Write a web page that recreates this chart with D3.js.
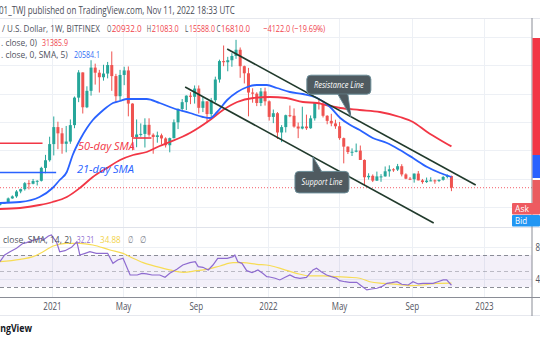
<!DOCTYPE html>
<html><head><meta charset="utf-8">
<script src="https://cdn.jsdelivr.net/npm/d3@7"></script>
<style>
html,body{margin:0;padding:0;background:#fff;overflow:hidden}
svg{display:block}
text{font-family:"Open Sans","Noto Sans",sans-serif}
</style></head><body>
<svg id="c" width="540" height="340"></svg>
<script>
// ---------------- DATA ----------------
const firstWeek = "2020-09-28"; // weekly candles, one per Monday
const opens  = [10780,10670,11380,11500,13030,13750,15480,16300,18400,18200,19150,19250,23800,26500,
  32200,38200,36000,32300,33100,38900,48600,57500,45200,51000,59200,57400,55800,57100,60100,56200,49100,56600,58200,46500,34700,35600,35800,39000,35500,34700,35300,34200,31800,34300,39900,44600,47000,49300,48900,51800,45000,47300,42800,47700,55000,61500,61100,61800,63300,65500,59700,57200,50400,50000,46700,50800,
  47300,41800,43100,36300,38200,42400,42200,38400,37700,38400,37800,41300,46800,46400,42200,40400,39500,38500,34300,31300,29400,29500,29900,26600,20500,21000,19300,20800,20800,22600,23300,23200,24400,21500,20000,19800,21800,19400,18800,19300,19400,19200,19600,20600,20932];
const highs  = [10950,11500,11730,13350,14100,15970,16480,18800,19480,19900,19450,24200,28400,34800,
  41950,40100,37900,38600,40900,49000,58300,57500,52600,61800,60600,58400,60200,61200,64900,57000,58400,59500,59600,46600,40900,39500,41300,41300,36000,36600,35900,34600,34500,40900,44800,48100,49400,50500,52900,52900,48900,47300,48500,56000,62000,67000,63000,64300,69000,66300,59900,59100,51900,50500,52000,52100,
  47600,44400,43500,38900,42600,45800,44800,39800,45400,42600,42300,46800,48200,47200,42400,42900,40800,40000,34500,31400,30700,32400,31700,26800,21900,21500,22500,21600,24300,24700,23700,25200,25100,21900,20600,21800,22700,19900,20400,20500,19700,19700,21000,21500,21083];
const lows   = [10400,10530,11200,11400,12900,13250,14850,15800,16200,18000,17600,19000,21900,26000,
  28200,30400,28800,29300,32300,37800,47000,43000,44900,49300,53200,50400,54600,55400,51000,47000,47500,53000,42000,30000,31100,34800,31000,34800,28800,32700,32100,31000,29300,34200,37500,43700,44200,46300,46500,43000,43500,39600,40800,46900,53900,59700,57900,59500,62300,55600,53600,42000,46800,45600,45600,45800,
  40500,39600,34000,32900,36300,41700,38000,34300,37400,37200,37600,40500,44400,41600,39200,38500,37600,33700,25400,28700,28000,29300,26600,17600,19700,18800,19200,18900,20700,20700,22400,22700,20800,19800,19500,18600,19400,18200,18500,19100,18200,18800,19300,20100,15588];
const closes = [10670,11380,11500,13030,13750,15480,16300,18400,18200,19150,19250,23800,26500,32200,
  38200,36000,32300,33100,38900,48600,57500,45200,51000,59200,57400,55800,57100,60100,56200,49100,56600,58200,46500,34700,35600,35800,39000,35500,34700,35300,34200,31800,34300,39900,44600,47000,49300,48900,51800,45000,47300,42800,47700,55000,61500,61100,61800,63300,65500,59700,57200,50400,50000,46700,50800,47300,
  41800,43100,36300,38200,42400,42200,38400,37700,38400,37800,41300,46800,46400,42200,40400,39500,38500,34300,31300,29400,29500,29900,26600,20500,21000,19300,20800,20800,22600,23300,23200,24400,21500,20000,19800,21800,19400,18800,19300,19400,19200,19600,20600,20932,16810];

// 21-period SMA (blue)
const sma21Dates = ["2020-10-05","2020-11-08","2020-12-11","2021-01-02","2021-01-14","2021-01-26","2021-02-05","2021-02-17","2021-03-01","2021-03-11","2021-03-23","2021-04-04","2021-04-14","2021-04-26","2021-05-08","2021-05-18","2021-06-10","2021-07-02","2021-07-24","2021-08-22","2021-09-13","2021-09-25","2021-10-07","2021-10-24","2021-11-10","2021-11-27","2021-12-13","2021-12-30","2022-01-16","2022-02-07","2022-03-01","2022-03-25","2022-04-16","2022-05-03","2022-05-20","2022-06-05","2022-06-27","2022-07-21","2022-08-12","2022-09-03","2022-09-27","2022-10-19","2022-11-07"];
const sma21Values = [11412,11765,13529,16706,19529,22353,28353,33647,37882,40706,43176,45294,46706,47412,48118,48118,48118,46706,44941,43176,41765,41412,43529,47765,50588,52353,53059,53059,52000,50588,49882,48471,45294,41412,38941,37176,34353,32588,30118,27294,24118,22000,20584];
// 50-period SMA (red)
const sma50Dates = ["2020-10-05","2020-11-08","2020-12-11","2021-01-02","2021-01-26","2021-02-17","2021-03-11","2021-04-04","2021-04-26","2021-05-18","2021-06-10","2021-07-02","2021-07-19","2021-08-22","2021-09-25","2021-10-17","2021-11-10","2021-12-07","2022-01-04","2022-02-01","2022-03-01","2022-03-25","2022-04-16","2022-05-03","2022-06-05","2022-07-09","2022-08-12","2022-09-03","2022-09-27","2022-10-19","2022-11-07"];
const sma50Values = [9294,9647,10706,11765,13529,16706,20588,23765,26588,28353,29412,31529,32941,36118,40706,44235,47059,48471,48824,48471,47059,46706,45647,44941,44235,43529,41765,40000,36471,33647,31386];

// RSI (purple)
const rsiDates = ["2020-10-05","2020-10-13","2020-10-22","2020-11-02","2020-11-13","2020-11-19","2020-11-28","2020-12-06","2020-12-14","2020-12-17","2020-12-26","2020-12-31","2021-01-09","2021-01-14","2021-01-23","2021-02-03","2021-02-12","2021-02-17","2021-02-26","2021-03-06","2021-03-17","2021-03-28","2021-04-05","2021-04-14","2021-04-22","2021-05-01","2021-05-13","2021-05-25","2021-06-02","2021-06-10","2021-06-19","2021-07-02","2021-07-11","2021-07-19","2021-07-31","2021-08-10","2021-08-22","2021-08-31","2021-09-05","2021-09-13","2021-09-22","2021-09-30","2021-10-08","2021-10-24","2021-11-03","2021-11-06","2021-11-11","2021-11-18","2021-11-26","2021-12-05","2021-12-15","2021-12-23","2021-12-30","2022-01-04","2022-01-13","2022-01-21","2022-01-30","2022-02-07","2022-02-15","2022-02-24","2022-03-07","2022-03-18","2022-03-24","2022-04-01","2022-04-10","2022-04-18","2022-04-27","2022-05-02","2022-05-11","2022-05-19","2022-05-31","2022-06-08","2022-06-17","2022-06-25","2022-07-04","2022-07-12","2022-07-21","2022-07-29","2022-08-07","2022-08-15","2022-08-26","2022-09-03","2022-09-12","2022-09-20","2022-09-29","2022-10-07","2022-10-15","2022-10-24","2022-10-30","2022-11-07"];
const rsiValues = [61.6,70,74.1,78.4,84.6,85.4,87.9,89.6,90.9,88.8,93.8,95,85.4,74.1,75.4,79.6,86.6,70,72.1,74.1,72.1,72.1,72.1,59.6,63.8,65.9,45,45,47.1,46.3,45,45,42.1,47.1,52.1,57.5,60.4,61.6,55.4,54.6,51.3,57.5,65.9,65.9,67.9,70,61.6,59.6,50.4,47.9,51.3,47.1,42.9,42.5,40.9,38.8,42.1,45,42.1,40.9,42.1,51.3,53.4,49.1,45,42.9,40.9,37.9,36.6,35.9,35.9,31.3,26.3,27.5,28.4,30.4,34.6,35.4,36.6,33.4,32.5,36.6,33.8,34.6,34.6,34.6,36.6,38.8,38.8,32.21];
// RSI moving average (yellow)
const rsiMaDates = ["2020-10-05","2020-11-08","2020-11-30","2020-12-17","2021-01-03","2021-01-25","2021-02-17","2021-03-11","2021-04-09","2021-05-01","2021-05-18","2021-06-04","2021-06-27","2021-07-19","2021-08-11","2021-09-02","2021-09-19","2021-10-12","2021-11-03","2021-11-20","2021-12-13","2022-01-04","2022-01-27","2022-02-18","2022-03-13","2022-04-04","2022-04-27","2022-05-19","2022-06-05","2022-06-22","2022-07-15","2022-08-07","2022-08-29","2022-09-20","2022-10-13","2022-11-07"];
const rsiMaValues = [61.6,64.6,67.9,74.1,81.3,84.6,84.6,82.5,76.3,72.1,65.9,60.4,55.4,51.3,48.4,50.4,52.1,56.3,60.4,60.4,58.4,56.9,52.1,47.1,43.8,43.8,42.9,42.1,40.9,36.6,34.6,33.4,31.6,32.5,34.6,34.88];

// drawings
const resistanceLine = [["2021-10-24",65765],["2022-12-18",17765]];
const supportLine    = [["2021-08-14",52353],["2022-10-08",4353]];
const redHLine  = {from:"2020-08-01", to:"2020-12-16", price:32480};
const redHLine2 = {from:"2021-05-18", to:"2021-06-18", price:34350};
const blueHLine = {from:"2020-08-01", to:"2021-01-08", price:22176};
const resistanceAnchor = ["2022-05-21", 41870];
const supportAnchor    = ["2022-03-18", 27680];
const lastPrice = 16810;

// legend values
const ohlcLabels = ["O","H","L","C"];
const ohlcValues = ["20932.0","21083.0","15588.0","16810.0"];
const changeText = "\u22124122.0 (\u221219.69%)";
const sma50Last = "31385.9", sma21Last = "20584.1";
const rsiLast = "32.21", rsiMaLast = "34.88";

const priceTicks = [10000,20000,30000,40000,50000,60000,70000];
const timeTickDates  = ["2021-01-01","2021-05-01","2021-09-01","2022-01-01","2022-05-01","2022-09-01","2023-01-01"];
const timeTickLabels = ["2021","May","Sep","2022","May","Sep","2023"];
const rsiBand = [30,70], rsiMid = 50, rsiGridLevels = [80,40];

// ---------------- CHART ----------------
const svg = d3.select("#c");
const parse = d3.utcParse("%Y-%m-%d");
const P = {right:532, top:18, bottom:227, rsiTop:227, rsiBottom:297, axisBottom:316};
const UP="#26a69a", DOWN="#ef5350", RED="#f23645", BLUE="#2962ff", GRID="#edf0f5";
const SQUEEZE = 0.8; // the reference's text is horizontally condensed

const x  = d3.scaleUtc().domain([parse("2021-01-01"), parse("2023-01-01")]).range([52,484]);
const y  = d3.scaleLinear().domain([10000,70000]).range([207,37]);
const yr = d3.scaleLinear().domain([30,70]).range([287,255]);

const t0 = parse(firstWeek);
const candles = closes.map((c,i)=>({d:d3.utcDay.offset(t0,7*i), o:opens[i], h:highs[i], l:lows[i], c}));

// text helper: draws text at natural size, then squeezes it horizontally to a target width
function tx(parent, xp, yp, s, col, width, size, opt={}){
  const e = parent.append("text").attr("x",0).attr("y",0).attr("fill",col).attr("font-size",size)
    .attr("text-anchor",opt.anchor||"start").text(s);
  if(opt.italic) e.attr("font-style","italic");
  if(opt.bold) e.attr("font-weight","bold");
  const w = e.node().getComputedTextLength();
  const sx = width ? width/w : SQUEEZE;
  e.attr("transform",`translate(${xp},${yp}) scale(${sx.toFixed(4)},1)`);
  return e;
}

svg.append("rect").attr("width",540).attr("height",340).attr("fill","#fff");

const defs = svg.append("defs");
defs.append("clipPath").attr("id","cp").append("rect").attr("x",0).attr("y",P.top).attr("width",P.right).attr("height",P.bottom-P.top);
defs.append("clipPath").attr("id","cr").append("rect").attr("x",0).attr("y",P.rsiTop).attr("width",P.right).attr("height",P.rsiBottom-P.rsiTop);

// grid
const grid = svg.append("g");
grid.selectAll(".vg").data(timeTickDates).join("line")
  .attr("x1",d=>Math.round(x(parse(d)))+0.5).attr("x2",d=>Math.round(x(parse(d)))+0.5)
  .attr("y1",P.top).attr("y2",P.rsiBottom).attr("stroke",GRID);
grid.selectAll(".hg").data(priceTicks).join("line")
  .attr("x1",0).attr("x2",P.right).attr("y1",d=>Math.round(y(d))+0.5).attr("y2",d=>Math.round(y(d))+0.5).attr("stroke",GRID);
grid.selectAll(".rg").data(rsiGridLevels).join("line")
  .attr("x1",0).attr("x2",P.right).attr("y1",d=>Math.round(yr(d))+0.5).attr("y2",d=>Math.round(yr(d))+0.5).attr("stroke",GRID);

// ---- price pane ----
const pp = svg.append("g").attr("clip-path","url(#cp)");

pp.append("line").attr("x1",0).attr("x2",P.right).attr("y1",y(lastPrice)).attr("y2",y(lastPrice))
  .attr("stroke",RED).attr("stroke-width",1).attr("stroke-dasharray","1,2").attr("opacity",0.8);

const cg = pp.append("g");
cg.selectAll("line").data(candles).join("line")
  .attr("x1",d=>x(d.d)).attr("x2",d=>x(d.d)).attr("y1",d=>y(d.h)).attr("y2",d=>y(d.l))
  .attr("stroke",d=>d.c>=d.o?UP:DOWN).attr("stroke-width",1);
cg.selectAll("rect").data(candles).join("rect")
  .attr("x",d=>x(d.d)-1.5).attr("width",3)
  .attr("y",d=>y(Math.max(d.o,d.c))).attr("height",d=>Math.max(1,Math.abs(y(d.o)-y(d.c))))
  .attr("fill",d=>d.c>=d.o?UP:DOWN);

const maLine = d3.line().curve(d3.curveMonotoneX);
pp.append("path").attr("d",maLine(sma50Dates.map((d,i)=>[x(parse(d)),y(sma50Values[i])])))
  .attr("fill","none").attr("stroke",RED).attr("stroke-width",1.8);
pp.append("path").attr("d",maLine(sma21Dates.map((d,i)=>[x(parse(d)),y(sma21Values[i])])))
  .attr("fill","none").attr("stroke",BLUE).attr("stroke-width",1.8);

[[redHLine,RED],[redHLine2,RED],[blueHLine,BLUE]].forEach(([h,col])=>{
  pp.append("line").attr("x1",x(parse(h.from))).attr("x2",x(parse(h.to)))
    .attr("y1",y(h.price)).attr("y2",y(h.price)).attr("stroke",col).attr("stroke-width",1.6);
});

[resistanceLine,supportLine].forEach(l=>{
  pp.append("line").attr("x1",x(parse(l[0][0]))).attr("y1",y(l[0][1]))
    .attr("x2",x(parse(l[1][0]))).attr("y2",y(l[1][1]))
    .attr("stroke","#213a2c").attr("stroke-width",1.6);
});

function callout(anchor, box, tail, label, tlen){
  const ax = x(parse(anchor[0])), ay = y(anchor[1]);
  const g = pp.append("g");
  const pts = tail.map(p=>[ax+p[0],ay+p[1]]);
  const fill="#4f5a60", stroke="#6b8d98";
  g.append("polygon").attr("points",[[ax,ay],...pts].join(" ")).attr("fill",fill).attr("stroke",stroke).attr("stroke-width",1);
  g.append("rect").attr("x",ax+box[0]).attr("y",ay+box[1]).attr("width",box[2]).attr("height",box[3])
    .attr("rx",4).attr("fill",fill).attr("stroke",stroke).attr("stroke-width",1);
  g.append("polygon").attr("points",[[ax,ay],...pts].map((p,i)=>i===0?[p[0],p[1]+(tail[0][1]>0?1.5:-1.5)]:[p[0]+(i===1?1:-1),p[1]]).join(" ")).attr("fill",fill);
  tx(g, ax+box[0]+box[2]/2, ay+box[1]+box[3]/2+3, label, "#fff", tlen, 9, {anchor:"middle", italic:true});
}
callout(resistanceAnchor,[-44,-41.5,64,19],[[-13,-22.5],[-3,-22.5]],"Resistance Line",50);
callout(supportAnchor,[-18,14.5,54,21.5],[[0,15],[9,15]],"Support Line",41);

tx(pp, 78, 150, "50-day SMA", RED, 57, 11.5, {italic:true});
tx(pp, 77, 172.5, "21-day SMA", BLUE, 57, 11.5, {italic:true});

// ---- RSI pane ----
const rp = svg.append("g").attr("clip-path","url(#cr)");
rp.append("rect").attr("x",0).attr("width",P.right).attr("y",yr(rsiBand[1])).attr("height",yr(rsiBand[0])-yr(rsiBand[1]))
  .attr("fill","#7e57c2").attr("opacity",0.09);
[rsiBand[1],rsiMid,rsiBand[0]].forEach(v=>{
  rp.append("line").attr("x1",0).attr("x2",P.right).attr("y1",Math.round(yr(v))+0.5).attr("y2",Math.round(yr(v))+0.5)
    .attr("stroke","#787b86").attr("stroke-dasharray","4,3").attr("opacity",v===rsiMid?0.45:0.85);
});
rp.append("path").attr("d",d3.line().curve(d3.curveMonotoneX)(rsiMaDates.map((d,i)=>[x(parse(d)),yr(rsiMaValues[i])])))
  .attr("fill","none").attr("stroke","#f7dc55").attr("stroke-width",1.2);
rp.append("path").attr("d",d3.line()(rsiDates.map((d,i)=>[x(parse(d)),yr(rsiValues[i])])))
  .attr("fill","none").attr("stroke","#8e6bd0").attr("stroke-width",1.2);

// ---- frame lines ----
const fr = svg.append("g");
fr.append("line").attr("x1",0).attr("x2",540).attr("y1",18.5).attr("y2",18.5).attr("stroke","#e6e8ee");
fr.append("line").attr("x1",0).attr("x2",540).attr("y1",227.5).attr("y2",227.5).attr("stroke","#e0e3eb");
fr.append("line").attr("x1",0).attr("x2",540).attr("y1",297.5).attr("y2",297.5).attr("stroke","#8a8d96").attr("stroke-width",1);
fr.append("line").attr("x1",0).attr("x2",540).attr("y1",315.5).attr("y2",315.5).attr("stroke","#e6e8ee");
fr.append("line").attr("x1",532).attr("x2",532).attr("y1",18).attr("y2",316).attr("stroke","#8a8d96");

// ---- right axis labels (cropped by the window edge, as in the reference) ----
const ax = svg.append("g");
ax.append("rect").attr("x",532.5).attr("y",38).attr("width",8).attr("height",117).attr("fill",RED);
ax.append("rect").attr("x",532.5).attr("y",155).attr("width",8).attr("height",23).attr("fill",BLUE);
ax.append("rect").attr("x",532.5).attr("y",180).attr("width",8).attr("height",24).attr("fill","#ea5b5f");
ax.append("rect").attr("x",512).attr("y",203).attr("width",28).attr("height",11.5).attr("fill","#ee5a60").attr("rx",1);
ax.append("rect").attr("x",512).attr("y",215).attr("width",28).attr("height",11.5).attr("fill","#2196f3").attr("rx",1);
tx(ax, 515, 212.3, "Ask", "#fff", 14, 9.5);
tx(ax, 515, 224.3, "Bid", "#fff", 12, 9.5);
rsiGridLevels.forEach(v=>tx(ax, 535.5, yr(v)+3.5, v.toFixed(2), "#50535e", null, 10));

// ---- time axis ----
const xa = svg.append("g").attr("transform","translate(0,300)")
  .call(d3.axisBottom(x).tickValues(timeTickDates.map(parse)).tickFormat((d,i)=>timeTickLabels[i]).tickSize(0).tickPadding(3));
xa.select(".domain").remove();
xa.selectAll("text").attr("font-family","Open Sans, sans-serif").attr("font-size",10).attr("fill","#50535e")
  .attr("transform",`scale(${SQUEEZE},1)`);

// ---- legends ----
const G="#50535e", VAL="#f0434c";
tx(svg, -1, 14, "01_TWJ published on TradingView.com, Nov 11, 2022 18:33 UTC", "#4a4d57", 236, 10.5);
tx(svg, 2, 32, "/ U.S. Dollar, 1W, BITFINEX", G, 98, 9.5);
const ohlcX = [107,146.7,185,216.5], ohlcLetterW = [4.3,4.3,3.3,4];
const ohlcValX = [111.7,151.7,189,221], ohlcValW = [30,27,26,29];
ohlcLabels.forEach((lab,i)=>{
  tx(svg, ohlcX[i], 32, lab, G, ohlcLetterW[i], 9.5);
  tx(svg, ohlcValX[i], 32, ohlcValues[i], VAL, ohlcValW[i], 9.5);
});
tx(svg, 263.3, 32, changeText, VAL, 62, 9.5);
tx(svg, 1, 45.5, ". close, 0)", G, 36, 9);  tx(svg, 42, 45.5, sma50Last, VAL, 26, 9);
tx(svg, 1, 57.5, ". close, 0, SMA, 5)", G, 67, 9); tx(svg, 74, 57.5, sma21Last, "#2f6df5", 26, 9);
tx(svg, 3, 242.5, "close, SMA, 14, 2)", G, 68.7, 9.5);
tx(svg, 76.7, 242.5, rsiLast, "#8e6bd0", 17.6, 9.5);
tx(svg, 100, 242.5, rsiMaLast, "#f2d34c", 20.7, 9.5);
tx(svg, 127.7, 242.5, "\u2205", "#787b86", 5.5, 9.5);
tx(svg, 140, 242.5, "\u2205", "#787b86", 6.5, 9.5);
tx(svg, 32, 332, "TradingView", "#131722", null, 11, {anchor:"end", bold:true});
</script></body></html>
